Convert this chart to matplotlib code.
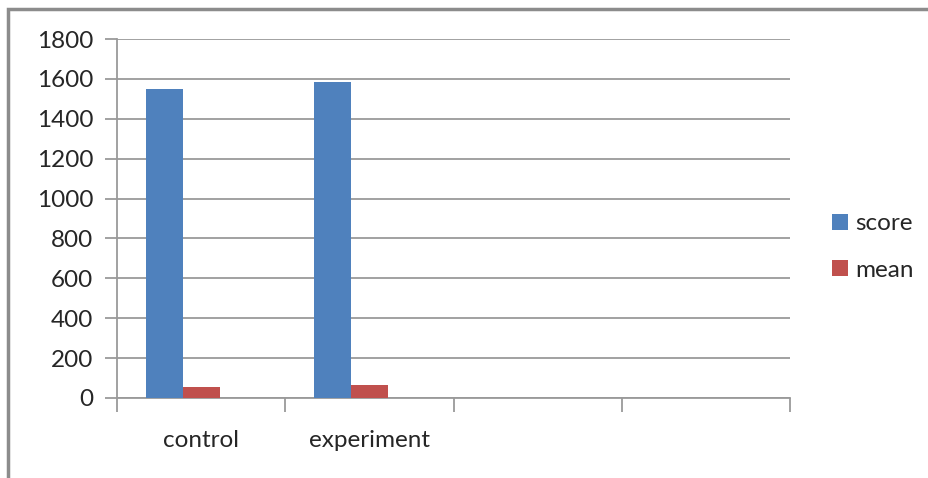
"""Bar chart: score and mean for control vs experiment groups."""

import matplotlib

matplotlib.use("Agg")
from matplotlib import pyplot as plt
from matplotlib.patches import Rectangle
import numpy as np

categories = ["control", "experiment", "", ""]
score = [1550, 1585]
mean = [53, 63]
y_ticks = [0, 200, 400, 600, 800, 1000, 1200, 1400, 1600, 1800]

BLUE = "#4F81BD"
RED = "#C0504D"
GRID = "#9a9a9a"
TEXT = "#262626"

plt.rcParams["font.family"] = ["Lato", "DejaVu Sans"]

W, H = 929, 478
fig = plt.figure(figsize=(W / 100, H / 100), dpi=100)
ax = fig.add_axes([117 / W, 1 - 398 / H, (790 - 117) / W, (398 - 39) / H])

# Excel lays out three series slots per category (third one is empty)
n_slots = 3
bar_w = 0.22
x = np.arange(len(score)) + 0.5
offset0 = -bar_w * (n_slots - 1) / 2
ax.bar(x + offset0, score, width=bar_w, color=BLUE, label="score", zorder=3)
ax.bar(x + offset0 + bar_w, mean, width=bar_w, color=RED, label="mean", zorder=3)

ax.set_xlim(0, len(categories))
ax.set_ylim(0, 1800)
ax.set_yticks(y_ticks)
ax.set_yticklabels([str(v) for v in y_ticks])
ax.yaxis.grid(True, color=GRID, linewidth=1.3, zorder=0)

ax.set_xticks(np.arange(len(categories) + 1))
ax.set_xticklabels([])
ax.set_xticks(np.arange(len(categories)) + 0.5, minor=True)
ax.set_xticklabels(categories, minor=True)

ax.tick_params(axis="y", length=9, width=1.3, color=GRID, pad=8,
               labelsize=17.5, labelcolor=TEXT)
ax.tick_params(axis="x", which="major", length=10, width=1.3, color=GRID)
ax.tick_params(axis="x", which="minor", length=0, pad=23,
               labelsize=17.5, labelcolor=TEXT)

for side in ("top", "right"):
    ax.spines[side].set_visible(False)
for side in ("left", "bottom"):
    ax.spines[side].set_color(GRID)
    ax.spines[side].set_linewidth(1.3)

ax.legend(loc="center left", bbox_to_anchor=(810 / W, 1 - 247 / H),
          bbox_transform=fig.transFigure, frameon=False, fontsize=17.5,
          handlelength=0.65, handleheight=0.65, handletextpad=0.3,
          labelspacing=1.05, labelcolor=TEXT)

# outer chart-area border (right and bottom edges fall outside the image)
fig.patches.append(Rectangle((8 / W, -0.1), 1.2, 1.1 - 9 / H,
                             transform=fig.transFigure, fill=False,
                             edgecolor="#8c8c8c", linewidth=2.5))

fig.savefig("out.png", dpi=100)
